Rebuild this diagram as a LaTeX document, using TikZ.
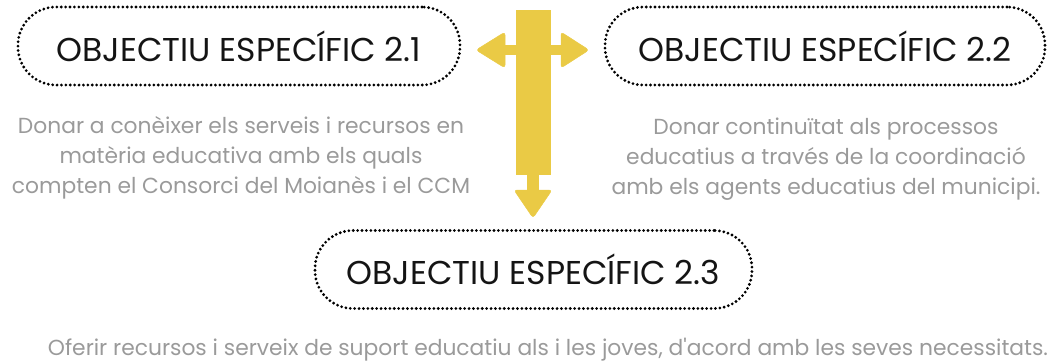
\documentclass[tikz,border=0pt]{standalone}
\usepackage{fontspec}
\setmainfont{Poppins}[Ligatures=TeXOff]
\definecolor{arrowyellow}{HTML}{EACA45}
\definecolor{desc}{HTML}{9A9A9A}
\definecolor{titleblack}{HTML}{141414}
\tikzset{
  objbox/.style={draw=black, line width=3.1pt, dash pattern=on 0pt off 4.4pt, line cap=round,
    rounded corners=38pt, minimum height=78pt, inner sep=0pt, text=titleblack,
    font=\fontsize{33}{36}\selectfont},
  desctext/.style={text=desc, align=center, inner sep=0pt, font=\fontsize{21.8}{30}\selectfont},
  yel/.style={fill=arrowyellow, draw=arrowyellow, line width=0.5pt}
}
\begin{document}
\begin{tikzpicture}[x=1pt,y=-1pt]
\useasboundingbox (0,0) rectangle (1057,362);
% boxes
\node[objbox, minimum width=442pt] (o1) at (239,46) {OBJECTIU ESPECÍFIC 2.1};
\node[objbox, minimum width=440pt] (o2) at (825,46) {OBJECTIU ESPECÍFIC 2.2};
\node[objbox, minimum width=437pt] (o3) at (533.5,269.5) {OBJECTIU ESPECÍFIC 2.3};
% descriptions
\node[desctext] (d1) at (241,158) {Donar a conèixer els serveis i recursos en\\matèria educativa amb els quals\\compten el Consorci del Moianès i el CCM};
\node[desctext] (d2) at (826,159) {Donar continuïtat als processos\\educatius a través de la coordinació\\amb els agents educatius del municipi.};
\node[desctext, anchor=base] (d3) at (548,355) {Oferir recursos i serveix de suport educatiu als i les joves, d'acord amb les seves necessitats.};
% arrow
\fill[arrowyellow] (516,10) rectangle (551,175);
\fill[arrowyellow] (503,45) rectangle (563,55);
\fill[arrowyellow] (527,173) rectangle (539,192);
\filldraw[yel, rounded corners=3pt, line join=round] (476,50) -- (505,32) -- (505,68) -- cycle;
\filldraw[yel, rounded corners=3pt, line join=round] (589,50) -- (561,32) -- (561,68) -- cycle;
\filldraw[yel, rounded corners=3pt, line join=round] (514,190) -- (552,190) -- (533,218) -- cycle;
\end{tikzpicture}
\end{document}
